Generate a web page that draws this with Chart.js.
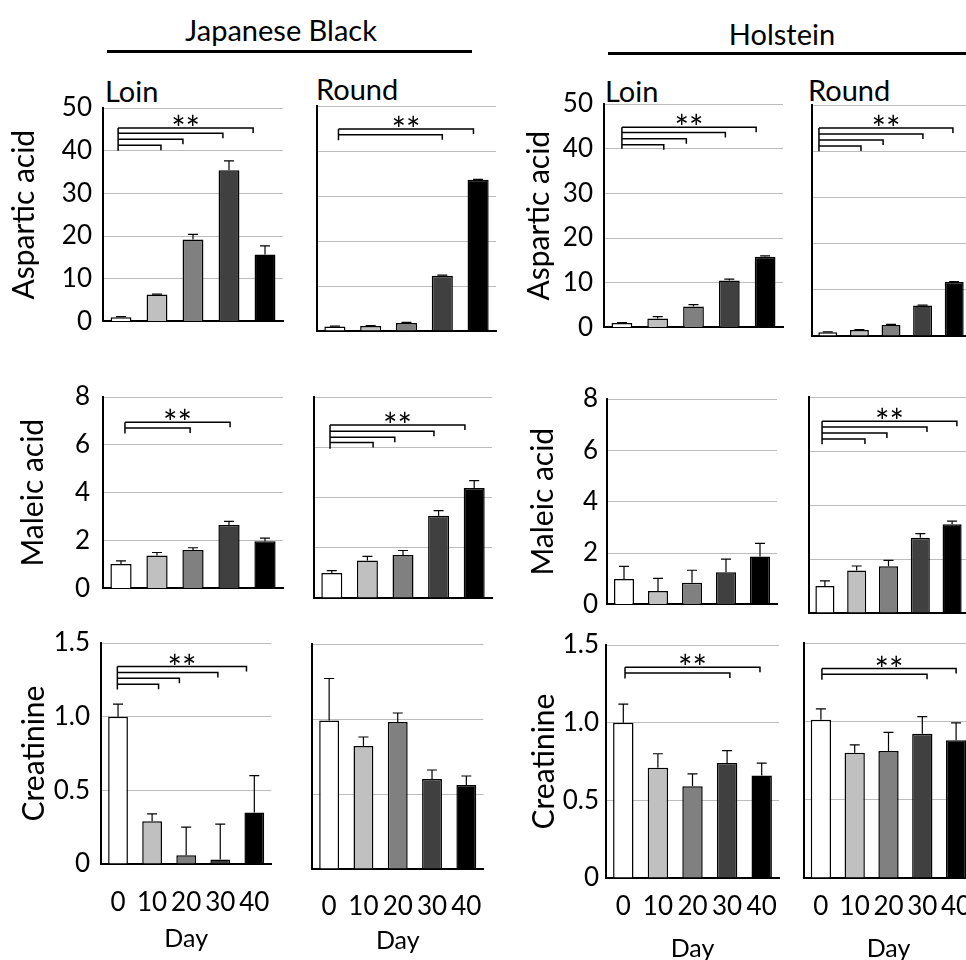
<!DOCTYPE html>
<html>
<head>
<meta charset="utf-8">
<script src="https://cdn.jsdelivr.net/npm/chart.js@4.4.0/dist/chart.umd.min.js"></script>
<style>
  html, body { margin: 0; padding: 0; background: #fff; width: 966px; height: 960px; overflow: hidden; }
  body { position: relative; font-family: Lato, sans-serif; color: #000; }
  canvas { position: absolute; }
  .lbl { position: absolute; font-size: 29px; line-height: 29px; white-space: nowrap; }
  .rule { position: absolute; height: 3px; background: #000; }
</style>
</head>
<body>
<div class="lbl" style="left:131px; top:15px; width:300px; text-align:center">Japanese Black</div>
<div class="rule" style="left:107px; top:50px; width:365px"></div>
<div class="lbl" style="left:632px; top:19px; width:300px; text-align:center">Holstein</div>
<div class="rule" style="left:608px; top:52px; width:358px"></div>
<div class="lbl" style="left:105px; top:76px">Loin</div>
<div class="lbl" style="left:316px; top:74px">Round</div>
<div class="lbl" style="left:605px; top:76px">Loin</div>
<div class="lbl" style="left:808px; top:75px">Round</div>
<script>
// Day 0..40, one bar per day
const days = ['0', '10', '20', '30', '40'];
const barColors = ['#ffffff', '#c0c0c0', '#808080', '#404040', '#000000'];

// y axis ticks
const aspTicks = [0, 10, 20, 30, 40, 50];
const aspTickLabels = ['0', '10', '20', '30', '40', '50'];
const malTicks = [0, 2, 4, 6, 8];
const malTickLabels = ['0', '2', '4', '6', '8'];
const creTicks = [0, 0.5, 1.0, 1.5];
const creTickLabels = ['0', '0.5', '1.0', '1.5'];

// Aspartic acid (mean, SD)
const aspJbLoin = [1.0, 6.3, 19.2, 35.4, 15.7];
const aspJbLoinSd = [0.1, 0.1, 1.2, 2.2, 2.0];
const aspJbRound = [1.0, 1.1, 1.8, 12.3, 33.6];
const aspJbRoundSd = [0.1, 0.1, 0.1, 0.1, 0.1];
const aspHoLoin = [1.0, 2.0, 4.7, 10.5, 15.8];
const aspHoLoinSd = [0.1, 0.4, 0.4, 0.3, 0.2];
const aspHoRound = [0.8, 1.3, 2.4, 6.6, 11.7];
const aspHoRoundSd = [0.1, 0.1, 0.1, 0.1, 0.1];

// Maleic acid
const malJbLoin = [1.02, 1.37, 1.60, 2.65, 1.97];
const malJbLoinSd = [0.13, 0.13, 0.10, 0.15, 0.13];
const malJbRound = [1.0, 1.49, 1.71, 3.27, 4.38];
const malJbRoundSd = [0.09, 0.17, 0.18, 0.21, 0.29];
const malHoLoin = [0.99, 0.52, 0.84, 1.25, 1.87];
const malHoLoinSd = [0.49, 0.49, 0.49, 0.51, 0.51];
const malHoRound = [1.0, 1.57, 1.73, 2.79, 3.29];
const malHoRoundSd = [0.19, 0.17, 0.22, 0.15, 0.11];

// Creatinine
const creJbLoin = [1.0, 0.29, 0.06, 0.03, 0.35];
const creJbLoinSd = [0.085, 0.05, 0.19, 0.24, 0.25];
const creJbRound = [0.99, 0.82, 0.98, 0.60, 0.56];
const creJbRoundSd = [0.28, 0.06, 0.06, 0.06, 0.06];
const creHoLoin = [1.0, 0.71, 0.59, 0.74, 0.66];
const creHoLoinSd = [0.12, 0.09, 0.08, 0.08, 0.08];
const creHoRound = [1.01, 0.80, 0.81, 0.92, 0.88];
const creHoRoundSd = [0.07, 0.05, 0.12, 0.11, 0.11];

// ** brackets: start/end in category units, heights in data units
const sigAspJbLoin = { from: -0.08, base: 40, ends: [1.11, 1.72, 2.83, 3.67], levels: [41.3, 42.7, 44.1, 45.3] };
const sigAspJbRound = { from: 0.1, base: 42.4, ends: [3.0, 3.87], levels: [43.6, 44.9] };
const sigAspHoLoin = { from: 0, base: 40, ends: [1.17, 1.8, 2.89, 3.75], levels: [40.9, 42.2, 43.6, 44.8] };
const sigAspHoRound = { from: -0.28, base: 40, ends: [1.05, 1.75, 3.01, 3.96], levels: [41.1, 42.4, 43.7, 45.0] };
const sigMalJbLoin = { from: 0.11, base: 6.47, ends: [1.92, 3.03], levels: [6.7, 6.94] };
const sigMalJbRound = { from: -0.05, base: 5.94, ends: [1.16, 1.77, 2.87, 3.74], levels: [6.19, 6.4, 6.64, 6.89] };
const sigMalHoRound = { from: -0.09, base: 6.25, ends: [1.26, 1.95, 3.21, 4.15], levels: [6.44, 6.67, 6.89, 7.1] };
const sigCreJbLoin = { from: -0.02, base: 1.184, ends: [1.19, 1.8, 2.93, 3.77], levels: [1.22, 1.26, 1.30, 1.34] };
const sigCreHoLoin = { from: 0.05, base: 1.285, ends: [3.08, 3.95], levels: [1.32, 1.356] };
const sigCreHoRound = { from: 0.03, base: 1.266, ends: [3.14, 4.0], levels: [1.30, 1.337] };

const errorBars = {
  id: 'errorBars',
  afterDatasetsDraw(chart, args, opts) {
    if (!opts.sd) return;
    const y = chart.scales.y;
    const ctx = chart.ctx;
    const vals = chart.data.datasets[0].data;
    ctx.save();
    ctx.strokeStyle = '#000';
    ctx.lineWidth = 1.2;
    chart.getDatasetMeta(0).data.forEach((bar, i) => {
      const top = y.getPixelForValue(vals[i] + opts.sd[i]);
      ctx.beginPath();
      ctx.moveTo(bar.x, bar.y);
      ctx.lineTo(bar.x, top);
      ctx.moveTo(bar.x - 5, top);
      ctx.lineTo(bar.x + 5, top);
      ctx.stroke();
    });
    ctx.restore();
  }
};

const brackets = {
  id: 'brackets',
  afterDatasetsDraw(chart, args, opts) {
    const sig = opts.sig;
    if (!sig) return;
    const x = chart.scales.x, y = chart.scales.y, ctx = chart.ctx;
    const x0 = x.getPixelForValue(sig.from);
    const tops = sig.levels.map(v => y.getPixelForValue(v));
    const topY = Math.min(...tops);
    ctx.save();
    ctx.strokeStyle = '#000';
    ctx.lineWidth = 1.5;
    ctx.beginPath();
    ctx.moveTo(x0, y.getPixelForValue(sig.base));
    ctx.lineTo(x0, topY);
    sig.ends.forEach((e, k) => {
      const x1 = x.getPixelForValue(e);
      ctx.moveTo(x0, tops[k]);
      ctx.lineTo(x1, tops[k]);
      ctx.lineTo(x1, tops[k] + 5);
    });
    ctx.stroke();
    const xr = x.getPixelForValue(sig.ends[sig.ends.length - 1]);
    ctx.fillStyle = '#000';
    ctx.font = '34px Lato';
    ctx.textAlign = 'center';
    ctx.textBaseline = 'alphabetic';
    ctx.fillText('**', (x0 + xr) / 2, topY + 13);
    ctx.restore();
  }
};

// plot box = [left, top, right, bottom] of the chart area on the page
const panels = [
  { box: [103, 108, 283, 328], vals: aspJbLoin, sd: aspJbLoinSd, ticks: aspTicks, labels: aspTickLabels, max: 50, yTitle: 'Aspartic acid', titleX: 24, tickPad: 11, sig: sigAspJbLoin, bar: 0.58 },
  { box: [317, 106, 496, 331], vals: aspJbRound, sd: aspJbRoundSd, ticks: aspTicks, labels: aspTickLabels, max: 50, sig: sigAspJbRound, bar: 0.59 },
  { box: [604, 104, 783, 334], vals: aspHoLoin, sd: aspHoLoinSd, ticks: aspTicks, labels: aspTickLabels, max: 50, yTitle: 'Aspartic acid', titleX: 539, tickPad: 11, sig: sigAspHoLoin, bar: 0.58 },
  { box: [812, 105, 970, 336], vals: aspHoRound, sd: aspHoRoundSd, ticks: aspTicks, labels: aspTickLabels, max: 50, sig: sigAspHoRound, bar: 0.6 },

  { box: [103, 397, 283, 597], vals: malJbLoin, sd: malJbLoinSd, ticks: malTicks, labels: malTickLabels, max: 8, yTitle: 'Maleic acid', titleX: 32.5, tickPad: 13, sig: sigMalJbLoin, bar: 0.59 },
  { box: [314, 397, 492, 598], vals: malJbRound, sd: malJbRoundSd, ticks: malTicks, labels: malTickLabels, max: 8, sig: sigMalJbRound, bar: 0.59 },
  { box: [607, 399, 777, 609], vals: malHoLoin, sd: malHoLoinSd, ticks: malTicks, labels: malTickLabels, max: 8, yTitle: 'Maleic acid', titleX: 543, tickPad: 9, bar: 0.59 },
  { box: [809, 397, 968, 613], vals: malHoRound, sd: malHoRoundSd, ticks: malTicks, labels: malTickLabels, max: 8, sig: sigMalHoRound, bar: 0.6 },

  { box: [101, 643, 279, 864], vals: creJbLoin, sd: creJbLoinSd, ticks: creTicks, labels: creTickLabels, max: 1.5, yTitle: 'Creatinine', titleX: 34, tickPad: 11, sig: sigCreJbLoin, bar: 0.58, showX: true, xPad: 15, dayPad: 9.6 },
  { box: [312, 644, 490, 869], vals: creJbRound, sd: creJbRoundSd, ticks: creTicks, labels: creTickLabels, max: 1.5, bar: 0.58, showX: true, xPad: 14, dayPad: 12.6 },
  { box: [606, 645, 779, 878], vals: creHoLoin, sd: creHoLoinSd, ticks: creTicks, labels: creTickLabels, max: 1.5, yTitle: 'Creatinine', titleX: 544, tickPad: 7, sig: sigCreHoLoin, bar: 0.59, showX: true, xPad: 5, dayPad: 13.6 },
  { box: [804, 643, 973, 878], vals: creHoRound, sd: creHoRoundSd, ticks: creTicks, labels: creTickLabels, max: 1.5, sig: sigCreHoRound, bar: 0.6, showX: true, xPad: 5, dayPad: 13.6 }
];

panels.forEach(p => {
  const [l, t, r, b] = p.box;
  const left = p.yTitle ? Math.round(p.titleX - 18) : l - 8;
  const top = t - 30;
  const xH = p.showX ? 100 : 20;
  const cv = document.createElement('canvas');
  cv.width = r - left + 6;
  cv.height = b - top + xH;
  cv.style.left = left + 'px';
  cv.style.top = top + 'px';
  document.body.appendChild(cv);

  new Chart(cv.getContext('2d'), {
    type: 'bar',
    data: {
      labels: days,
      datasets: [{
        data: p.vals,
        backgroundColor: barColors,
        borderColor: '#000',
        borderWidth: 1.5,
        categoryPercentage: 1,
        barPercentage: p.bar
      }]
    },
    options: {
      responsive: false,
      animation: false,
      devicePixelRatio: 1,
      events: [],
      layout: { padding: { top: 30, right: 6, left: 0, bottom: 0 } },
      scales: {
        x: {
          grid: { display: false },
          border: { display: true, color: '#000', width: 2 },
          ticks: {
            display: !!p.showX,
            color: '#000',
            padding: p.xPad || 0,
            maxRotation: 0,
            minRotation: 0,
            autoSkip: false,
            font: { family: 'Lato', size: 26 }
          },
          title: { display: !!p.showX, text: 'Day', color: '#000', padding: { top: 0, bottom: p.dayPad || 0 }, font: { family: 'Lato', size: 25 } },
          afterFit: s => { s.height = xH; }
        },
        y: {
          min: 0,
          max: p.max,
          afterBuildTicks: s => { s.ticks = p.ticks.map(v => ({ value: v })); },
          grid: { color: '#bcbcbc', lineWidth: 1, drawTicks: false },
          border: { display: true, color: '#000', width: 2 },
          ticks: {
            display: !!p.yTitle,
            color: '#000',
            padding: p.tickPad || 0,
            font: { family: 'Lato', size: 26 },
            callback: (v, i) => p.labels[i]
          },
          title: { display: !!p.yTitle, text: p.yTitle || '', color: '#000', padding: 0, font: { family: 'Lato', size: 30 } },
          afterFit: s => { s.width = l - left; }
        }
      },
      plugins: {
        legend: { display: false },
        tooltip: { enabled: false },
        errorBars: { sd: p.sd },
        brackets: { sig: p.sig }
      }
    },
    plugins: [errorBars, brackets]
  });
});
</script>
</body>
</html>
